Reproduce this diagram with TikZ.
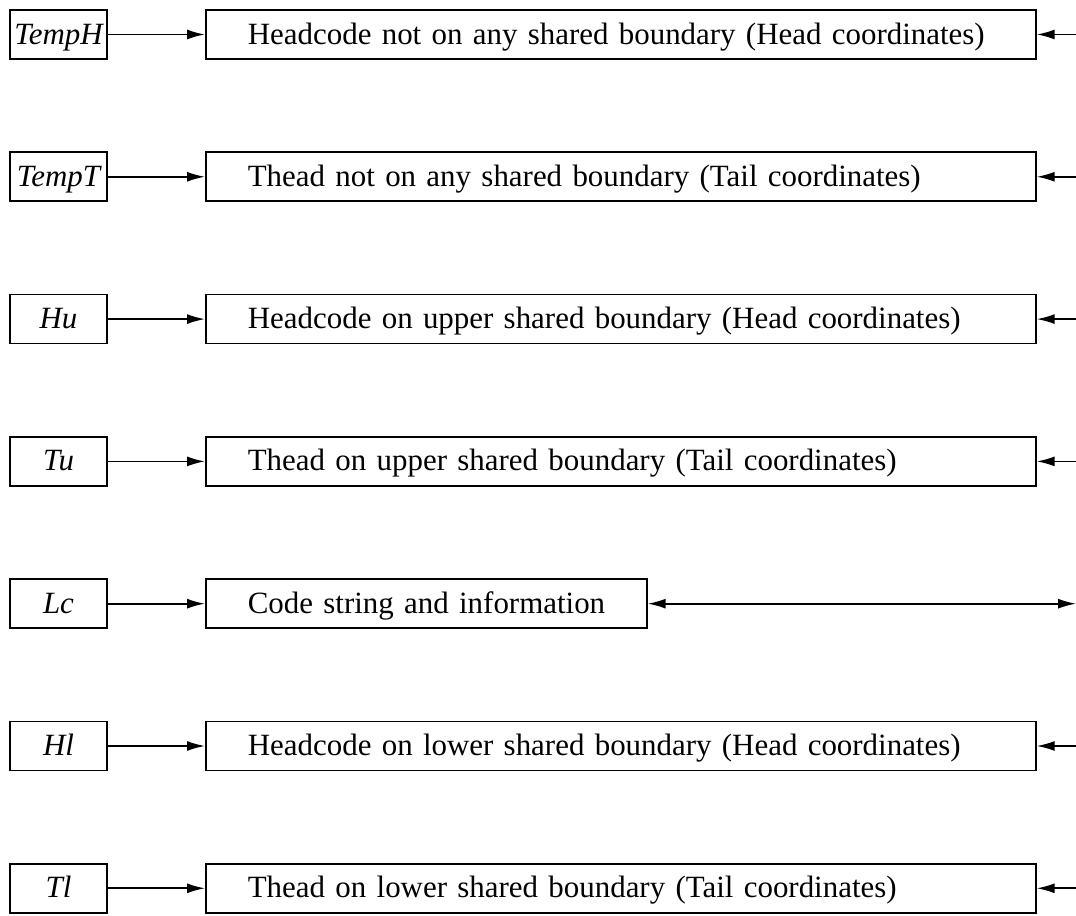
\documentclass[tikz,border=0pt]{standalone}
\usepackage{fontspec}
\setmainfont{Liberation Serif}
\usetikzlibrary{arrows.meta}

\begin{document}
\begin{tikzpicture}
\tikzstyle namebox=[draw, line width=1.2pt, font=\fontsize{22}{26}\selectfont\itshape, minimum width=2.425cm, minimum height=1.225cm, inner sep=0pt, text height=0.5cm, text depth=0.02cm];
\tikzstyle infobox=[draw, line width=1.2pt, font=\fontsize{22}{26}\selectfont, minimum height=1.225cm, inner xsep=1.05cm, inner ysep=0pt, text height=0.5cm, text depth=0.02cm, align=left, anchor=west];
\tikzstyle link=[line width=1.2pt, -{Latex[length=0.45cm, width=0.25cm]}];
\useasboundingbox (0,0) rectangle (26.9,22.9);
\node[namebox] (tempH) at (1.4625,22.0375) {TempH};
\node[infobox, text width=18.65cm] (headFree) at (5.125,22.0375) {\mbox{Headcode not on any shared boundary (Head coordinates)}};
\coordinate (rHeadFree) at (26.9,22.0375);
\node[namebox] (tempT) at (1.4625,18.48) {TempT};
\node[infobox, text width=18.65cm] (tailFree) at (5.125,18.48) {\mbox{Thead not on any shared boundary (Tail coordinates)}};
\coordinate (rTailFree) at (26.9,18.48);
\node[namebox] (hu) at (1.4625,14.9225) {Hu};
\node[infobox, text width=18.65cm] (headUp) at (5.125,14.9225) {\mbox{Headcode on upper shared boundary (Head coordinates)}};
\coordinate (rHeadUp) at (26.9,14.9225);
\node[namebox] (tu) at (1.4625,11.365) {Tu};
\node[infobox, text width=18.65cm] (tailUp) at (5.125,11.365) {\mbox{Thead on upper shared boundary (Tail coordinates)}};
\coordinate (rTailUp) at (26.9,11.365);
\node[namebox] (lc) at (1.4625,7.8075) {Lc};
\node[infobox, text width=8.925cm] (codeInfo) at (5.125,7.8075) {\mbox{Code string and information}};
\coordinate (rCodeInfo) at (26.9,7.8075);
\node[namebox] (hl) at (1.4625,4.25) {Hl};
\node[infobox, text width=18.65cm] (headLow) at (5.125,4.25) {\mbox{Headcode on lower shared boundary (Head coordinates)}};
\coordinate (rHeadLow) at (26.9,4.25);
\node[namebox] (tl) at (1.4625,0.6925) {Tl};
\node[infobox, text width=18.65cm] (tailLow) at (5.125,0.6925) {\mbox{Thead on lower shared boundary (Tail coordinates)}};
\coordinate (rTailLow) at (26.9,0.6925);
\draw[link] (tempH) -- (headFree);
\draw[link] (rHeadFree) -- (headFree);
\draw[link] (tempT) -- (tailFree);
\draw[link] (rTailFree) -- (tailFree);
\draw[link] (hu) -- (headUp);
\draw[link] (rHeadUp) -- (headUp);
\draw[link] (tu) -- (tailUp);
\draw[link] (rTailUp) -- (tailUp);
\draw[link] (lc) -- (codeInfo);
\draw[link, {Latex[length=0.45cm, width=0.25cm]}-{Latex[length=0.45cm, width=0.25cm]}] (codeInfo) -- (rCodeInfo);
\draw[link] (hl) -- (headLow);
\draw[link] (rHeadLow) -- (headLow);
\draw[link] (tl) -- (tailLow);
\draw[link] (rTailLow) -- (tailLow);
\end{tikzpicture}
\end{document}
